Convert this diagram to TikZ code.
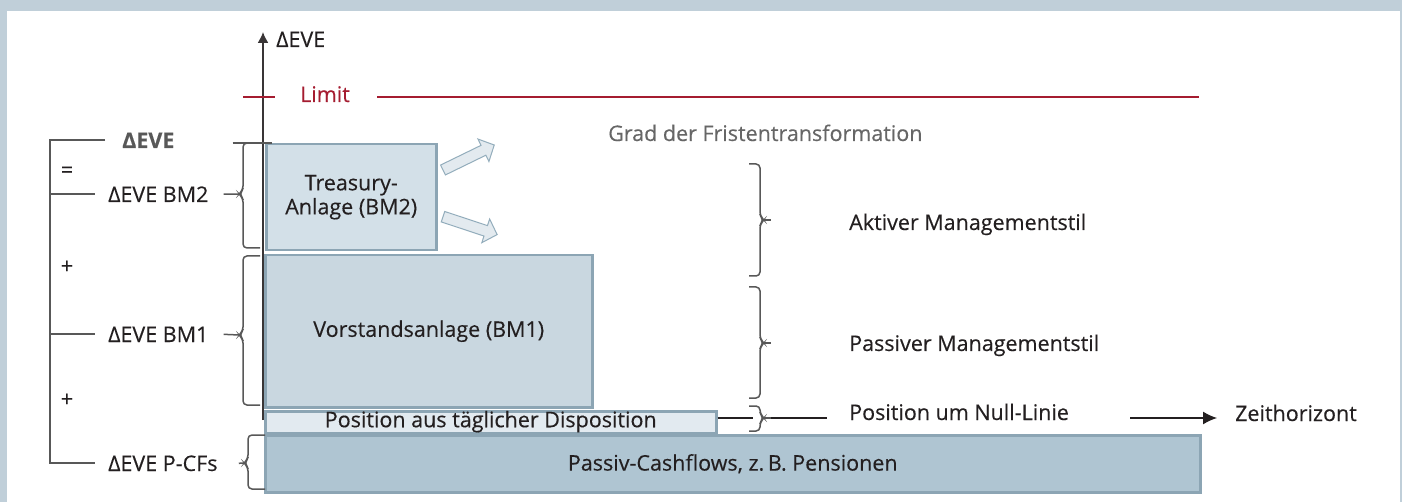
\documentclass[tikz,border=0pt]{standalone}
\usepackage{fontspec}
\setmainfont{Open Sans}[FakeBold=0.3]
\usetikzlibrary{arrows.meta,positioning}

\definecolor{framegray}{HTML}{C0CFD9}
\definecolor{limitred}{HTML}{A51C30}
\definecolor{boxline}{HTML}{8CA5B4}
\definecolor{tfill}{HTML}{D3E0E8}
\definecolor{vfill}{HTML}{C9D7E0}
\definecolor{pfill}{HTML}{E2EAF0}
\definecolor{cffill}{HTML}{AFC5D2}
\definecolor{arrfill}{HTML}{E3EAEF}
\definecolor{arrline}{HTML}{93ADBC}
\definecolor{txtdark}{HTML}{231F20}
\definecolor{txtgray}{HTML}{666666}
\definecolor{brkgray}{HTML}{585858}

\newcommand{\diagfont}{\fontsize{21.5}{24}\selectfont}
% x, top, mid, bottom, tip name
\newcommand{\leftbrak}[5]{%
  \draw[brace] (#1+17,#2) -- (#1,#2) -- (#1,#3-4) -- (#1-4,#3) -- (#1,#3+4) -- (#1,#4) -- (#1+17,#4);
  \coordinate (#5) at (#1-4,#3);}
\newcommand{\rightbrak}[5]{%
  \draw[brace] (#1-11,#2) -- (#1,#2) -- (#1,#3-4) -- (#1+4,#3) -- (#1,#3+4) -- (#1,#4) -- (#1-11,#4);
  \draw[brace] (#1+4,#3) -- (#1+11,#3);
  \coordinate (#5) at (#1+11,#3);}
% block arrow: tail, angle
\newcommand{\blockarr}[2]{%
  \begin{scope}[shift={#1},rotate=#2]
    \draw[blockarrow] (0,-5.5) -- (45,-5.5) -- (45,-12.5) -- (57,0) -- (45,12.5) -- (45,5.5) -- (0,5.5) -- cycle;
  \end{scope}}

\begin{document}
\begin{tikzpicture}[x=1pt,y=-1pt,font=\diagfont,text=txtdark,
  box/.style={draw=boxline,line width=2.5pt,inner sep=0pt,anchor=north west,align=center},
  lbl/.style={inner sep=0pt,anchor=base west},
  bracket/.style={draw=brkgray,line width=2.2pt},
  brace/.style={draw=brkgray,line width=1.5pt,rounded corners=4pt},
  thinline/.style={draw=txtdark,line width=1.3pt},
  axis/.style={draw=txtdark!90,line width=1.6pt},
  limitline/.style={draw=limitred,line width=2pt},
  blockarrow/.style={draw=arrline,fill=arrfill,line width=1pt,line join=miter}]
\fill[framegray] (0,0) rectangle (1402,502);
\fill[white] (7,11) rectangle (1400,502);

% Anlagebloecke
\node[box,fill=tfill,minimum width=170pt,minimum height=106pt] (treasury) at (265,143) {Treasury-\\Anlage (BM2)};
\node[box,fill=vfill,minimum width=327pt,minimum height=152pt] (vorstand) at (264,254) {Vorstandsanlage (BM1)};
\node[box,fill=pfill,minimum width=451pt,minimum height=22pt,text height=15pt,text depth=5pt] (dispo) at (264,410) {Position aus täglicher Disposition};
\node[box,fill=cffill,minimum width=935pt,minimum height=57pt] (pcf) at (264,434) {Passiv-Cashflows, z.\,B. Pensionen};

% Achse und Limit
\coordinate (axbot) at (263,420);
\coordinate (axtop) at (263,32);
\draw[axis,-{Latex[length=11pt,width=11pt]}] (axbot) -- (axtop);
\node[lbl] (axlbl) at (276,47) {ΔEVE};
\node[lbl,text=limitred] (limit) at (300,102) {Limit};
\draw[limitline] (243,97) -- (275,97) (377,97) -- (1199,97);

\blockarr{(443,170)}{26}
\blockarr{(443,216.7)}{-18.3}

% Summenklammer links
\node[lbl,font=\diagfont\bfseries,text=brkgray] (lbleve) at (122,148) {ΔEVE};
\node[lbl] (lblbm2) at (108,202) {ΔEVE BM2};
\node[lbl] (lblbm1) at (108,342) {ΔEVE BM1};
\node[lbl] (lblpcf) at (108,471) {ΔEVE P-CFs};
\node (eq) at (67,172) {=};
\node (plusa) at (67,267) {+};
\node (plusb) at (67,400) {+};
\coordinate (brx) at (50,0);
\draw[bracket] ([xshift=-17pt]lbleve.west) -- (lbleve.west -| brx) -- (lblpcf.west -| brx) -- ([xshift=-13pt]lblpcf.west);
\draw[bracket] (lblbm2.west -| brx) -- ([xshift=-13pt]lblbm2.west);
\draw[bracket] (lblbm1.west -| brx) -- ([xshift=-13pt]lblbm1.west);
\draw[bracket,line width=2pt] ([xshift=58pt]lbleve.east |- treasury.north west) -- ([xshift=7pt]treasury.north west);

\leftbrak{243}{143}{194}{248}{tipbm2}
\leftbrak{243}{256}{335}{405}{tipbm1}
\leftbrak{248}{435}{463}{489}{tippcf}
\draw[brace] ([xshift=15pt]lblbm2.east) -- (tipbm2);
\draw[brace] ([xshift=15pt]lblbm1.east) -- (tipbm1);
\draw[brace] ([xshift=21pt]lblpcf.east) -- (tippcf);

% rechte Seite
\rightbrak{760}{164}{220}{276}{tipaktiv}
\rightbrak{760}{287}{343}{398}{tippassiv}
\rightbrak{760}{406}{418}{431}{tipnull}
\node[lbl,text=txtgray] (grad) at (608,141) {Grad der Fristentransformation};
\node[lbl] (aktiv) at (849,230) {Aktiver Managementstil};
\node[lbl] (passiv) at (849,351) {Passiver Managementstil};
\node[lbl] (null) at (849,420) {Position um Null-Linie};
\node[lbl] (zeit) at (1235,421) {Zeithorizont};
\draw[thinline] (dispo.east |- tipnull) -- ++(35,0);
\draw[thinline] (tipnull) -- ([xshift=-22pt]null.west |- tipnull);
\draw[thinline,-{Latex[length=14pt,width=13pt]}] ([xshift=61pt]null.east |- tipnull) -- ([xshift=-18pt]zeit.west |- tipnull);
\end{tikzpicture}
\end{document}
